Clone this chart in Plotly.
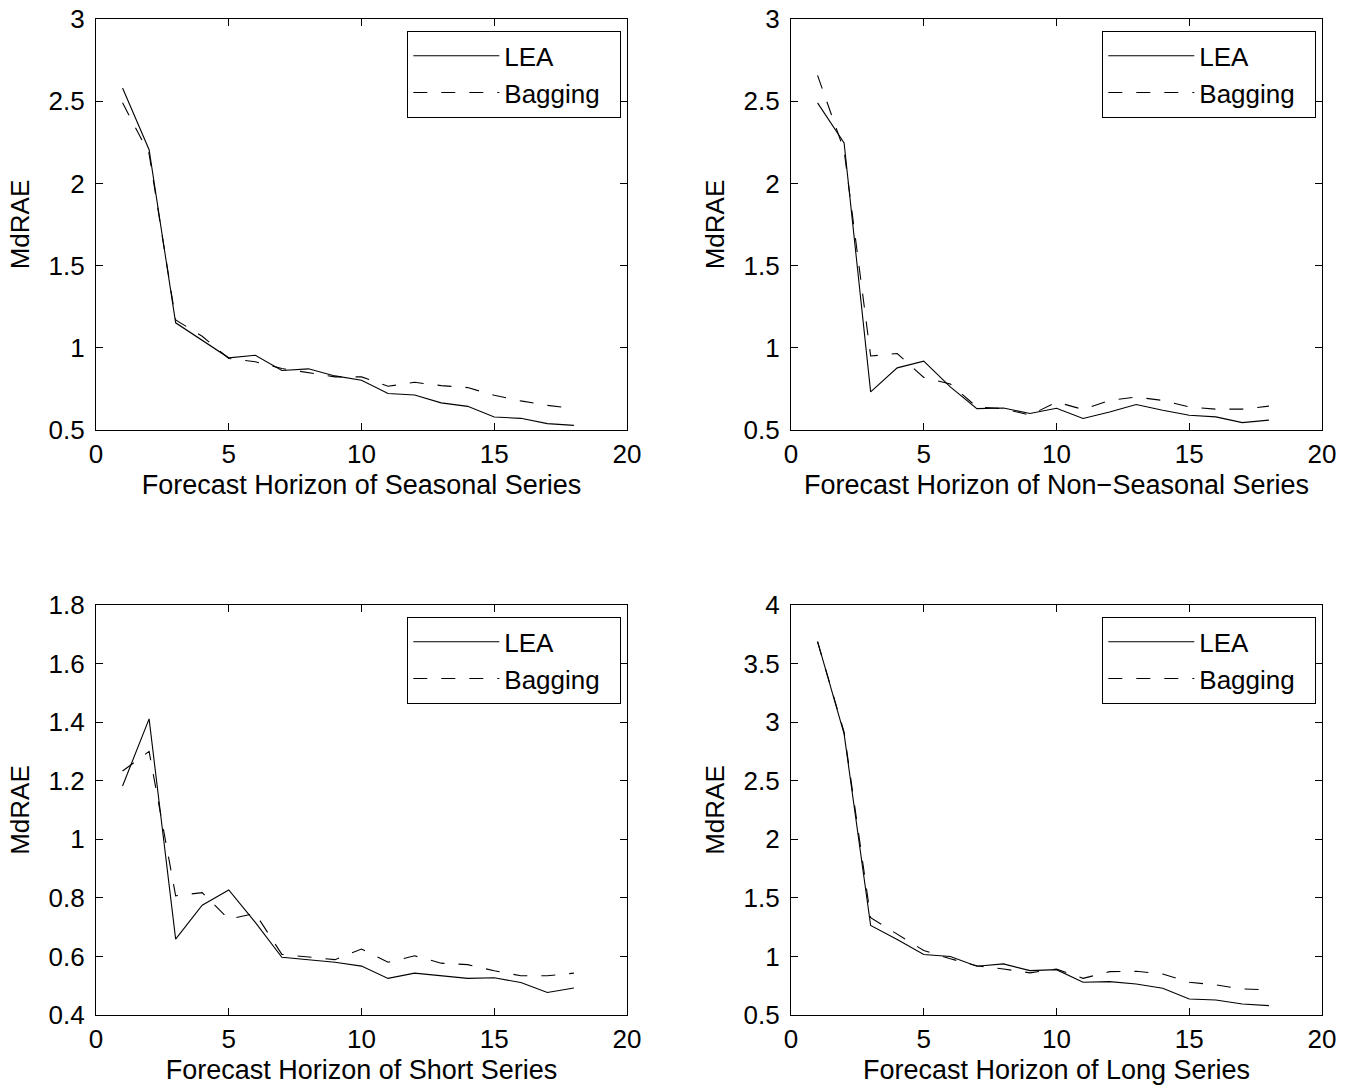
import plotly.graph_objects as go

horizon = list(range(1, 19))

lea_seasonal = [2.58, 2.205, 1.152, 1.047, 0.939, 0.955, 0.862, 0.872, 0.829, 0.803,
                0.722, 0.713, 0.665, 0.644, 0.579, 0.571, 0.539, 0.528]
bag_seasonal = [2.49, 2.18, 1.17, 1.07, 0.935, 0.915, 0.874, 0.85, 0.823, 0.823,
                0.766, 0.79, 0.77, 0.758, 0.711, 0.677, 0.65, 0.63]

lea_nonseasonal = [2.49, 2.246, 0.732, 0.878, 0.919, 0.762, 0.63, 0.634, 0.60, 0.632,
                   0.57, 0.61, 0.655, 0.62, 0.59, 0.58, 0.545, 0.56]
bag_nonseasonal = [2.657, 2.2, 0.95, 0.965, 0.82, 0.78, 0.64, 0.63, 0.59, 0.67,
                   0.625, 0.68, 0.70, 0.68, 0.64, 0.627, 0.627, 0.645]

lea_short = [1.182, 1.411, 0.659, 0.775, 0.827, 0.716, 0.597, 0.589, 0.58, 0.567,
             0.525, 0.543, 0.534, 0.525, 0.527, 0.511, 0.477, 0.492]
bag_short = [1.233, 1.30, 0.807, 0.818, 0.727, 0.747, 0.607, 0.597, 0.589, 0.625,
             0.58, 0.602, 0.577, 0.572, 0.551, 0.534, 0.534, 0.543]

lea_long = [3.69, 2.90, 1.264, 1.144, 1.016, 1.0, 0.916, 0.936, 0.879, 0.887,
            0.779, 0.785, 0.765, 0.728, 0.637, 0.628, 0.594, 0.58]
bag_long = [3.685, 2.915, 1.33, 1.19, 1.05, 0.98, 0.92, 0.893, 0.86, 0.893,
            0.813, 0.87, 0.873, 0.85, 0.78, 0.757, 0.722, 0.714]

x_titles = ["Forecast Horizon of Seasonal Series", "Forecast Horizon of Non\u2212Seasonal Series",
            "Forecast Horizon of Short Series", "Forecast Horizon of Long Series"]
y_ranges = [[0.5, 3], [0.5, 3], [0.4, 1.8], [0.5, 4]]
y_dticks = [0.5, 0.5, 0.2, 0.5]
series = [(lea_seasonal, bag_seasonal), (lea_nonseasonal, bag_nonseasonal),
          (lea_short, bag_short), (lea_long, bag_long)]

W, H = 1354, 1089
x_doms = [[96 / W, 627 / W], [791 / W, 1322 / W]]
y_doms = [[1 - 430 / H, 1 - 19 / H], [1 - 1015 / H, 1 - 605 / H]]

FONT = "Liberation Sans, Arial, Helvetica, sans-serif"
FS = 26

fig = go.Figure()
layout = dict(
    width=W, height=H,
    margin=dict(l=0, r=0, t=0, b=0, pad=0),
    paper_bgcolor="white", plot_bgcolor="white",
    font=dict(family=FONT, size=FS, color="black"),
)

for i in range(4):
    r, c = divmod(i, 2)
    ax = "" if i == 0 else str(i + 1)
    leg = "legend" if i == 0 else f"legend{i + 1}"
    lea, bag = series[i]
    fig.add_trace(go.Scatter(x=horizon, y=lea, mode="lines", name="LEA\u00a0\u00a0",
                             line=dict(color="black", width=1.1),
                             xaxis="x" + ax, yaxis="y" + ax, legend=leg))
    fig.add_trace(go.Scatter(x=horizon, y=bag, mode="lines", name="Bagging\u00a0\u00a0",
                             line=dict(color="black", width=1.1, dash="14px,14px"),
                             xaxis="x" + ax, yaxis="y" + ax, legend=leg))
    axis_common = dict(showline=True, linecolor="black", linewidth=1.3, mirror="ticks",
                       ticks="inside", ticklen=7, tickcolor="black", tickwidth=1,
                       showgrid=False, zeroline=False, automargin=False,
                       tickfont=dict(family=FONT, size=FS, color="black"))
    layout["xaxis" + ax] = dict(domain=x_doms[c], range=[0, 20], dtick=5, tick0=0,
                                anchor="y" + ax, ticklabelstandoff=1,
                                title=dict(text=x_titles[i], standoff=6,
                                           font=dict(family=FONT, size=27)),
                                **axis_common)
    layout["yaxis" + ax] = dict(domain=y_doms[r], range=y_ranges[i], dtick=y_dticks[i],
                                anchor="x" + ax, ticklabelstandoff=5,
                                title=dict(text="MdRAE", standoff=11,
                                           font=dict(family=FONT, size=FS)),
                                **axis_common)
    lx = x_doms[c][1] - 6 / W
    ly = y_doms[r][1] - 12 / H
    layout[leg] = dict(x=lx, y=ly, xanchor="right", yanchor="top",
                       bordercolor="black", borderwidth=1.3, bgcolor="white",
                       font=dict(family=FONT, size=FS, color="black"),
                       itemwidth=86, tracegroupgap=0)

fig.update_layout(**layout)
fig.write_html("out.html", config={"displayModeBar": False},
               post_script="document.body.style.margin='0';")
